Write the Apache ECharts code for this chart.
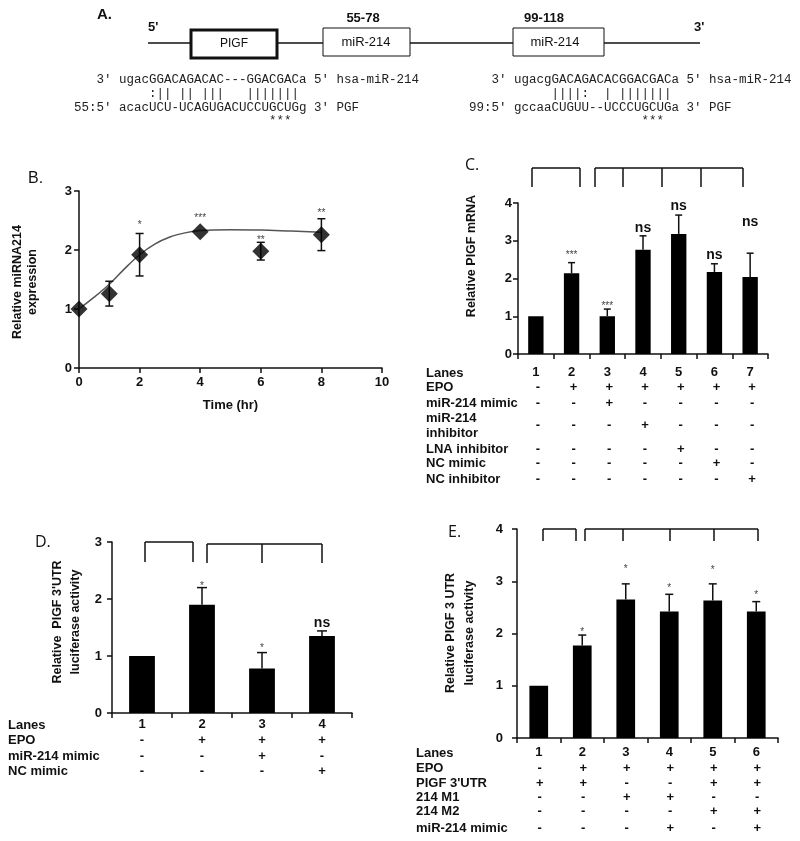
<!DOCTYPE html>
<html><head><meta charset="utf-8">
<script src="https://cdn.jsdelivr.net/npm/echarts@6/dist/echarts.min.js"></script>
<style>html,body{margin:0;padding:0;background:#fff}#c{width:800px;height:841px}</style>
</head><body><div id="c"></div>
<script>
// ---------- Panel A: sequence alignment text ----------
const seqLeft = ["   3' ugacGGACAGACAC---GGACGACa 5' hsa-miR-214",
                 "          :|| || |||   |||||||",
                 "55:5' acacUCU-UCAGUGACUCCUGCUGg 3' PGF",
                 "                          ***"];
const seqRight = ["   3' ugacgGACAGACACGGACGACa 5' hsa-miR-214",
                  "           ||||:  | |||||||",
                  "99:5' gccaaCUGUU--UCCCUGCUGa 3' PGF",
                  "                       ***"];

// ---------- Panel B ----------
const bTime = [0, 1, 2, 4, 6, 8];
const bMean = [1.0, 1.26, 1.92, 2.31, 1.98, 2.26];
const bErr  = [0, 0.21, 0.36, 0, 0.15, 0.27];
const bSig  = ['', '', '*', '***', '**', '**'];
const bSigY = [null, null, 2.47, 2.58, 2.20, 2.67];
const bFitX = [0, 0.5, 1, 1.5, 2, 2.5, 3, 3.5, 4, 5, 6, 7, 8];
const bFitY = [1.0, 1.2, 1.42, 1.68, 1.92, 2.1, 2.22, 2.29, 2.33, 2.345, 2.34, 2.32, 2.30];
const bXTicks = [0, 10, 2];
const bYTicks = [0, 3, 1];

// ---------- Panel C ----------
const cLanes = ['1', '2', '3', '4', '5', '6', '7'];
const cMean = [1.0, 2.14, 1.0, 2.76, 3.18, 2.17, 2.04];
const cErr  = [0, 0.28, 0.19, 0.37, 0.50, 0.22, 0.63];
const cSig  = ['', '***', '***', 'ns', 'ns', 'ns', 'ns'];
const cSigY = [null, 2.69, 1.33, 3.33, 3.93, 2.63, 3.50];
const cRowLabels = ['EPO', 'miR-214 mimic', 'miR-214\ninhibitor', 'LNA inhibitor', 'NC mimic', 'NC inhibitor'];
const cTable = [
  ['-', '+', '+', '+', '+', '+', '+'],
  ['-', '-', '+', '-', '-', '-', '-'],
  ['-', '-', '-', '+', '-', '-', '-'],
  ['-', '-', '-', '-', '+', '-', '-'],
  ['-', '-', '-', '-', '-', '+', '-'],
  ['-', '-', '-', '-', '-', '-', '+']
];

// ---------- Panel D ----------
const dLanes = ['1', '2', '3', '4'];
const dMean = [1.0, 1.90, 0.78, 1.35];
const dErr  = [0, 0.30, 0.28, 0.09];
const dSig  = ['', '*', '*', 'ns'];
const dSigY = [null, 2.27, 1.18, 1.57];
const dRowLabels = ['EPO', 'miR-214 mimic', 'NC mimic'];
const dTable = [
  ['-', '+', '+', '+'],
  ['-', '-', '+', '-'],
  ['-', '-', '-', '+']
];

// ---------- Panel E ----------
const eLanes = ['1', '2', '3', '4', '5', '6'];
const eMean = [1.0, 1.77, 2.65, 2.42, 2.63, 2.42];
const eErr  = [0, 0.20, 0.30, 0.33, 0.32, 0.19];
const eSig  = ['', '*', '*', '*', '*', '*'];
const eSigY = [null, 2.08, 3.27, 2.91, 3.25, 2.78];
const eRowLabels = ['EPO', "PIGF 3'UTR", '214 M1', '214 M2', 'miR-214 mimic'];
const eTable = [
  ['-', '+', '+', '+', '+', '+'],
  ['+', '+', '-', '-', '+', '+'],
  ['-', '-', '+', '+', '-', '-'],
  ['-', '-', '-', '-', '+', '+'],
  ['-', '-', '-', '+', '-', '+']
];

// ---------- layout ----------
const FONT = '"Liberation Sans", Arial, sans-serif';
const MONO = '"Liberation Mono", "Courier New", monospace';
const INK = '#111';
const GRID = {
  B: {left: 79, top: 191, width: 303, height: 177},
  C: {left: 518, top: 203, width: 250, height: 151},
  D: {left: 112, top: 542, width: 240, height: 171},
  E: {left: 517, top: 529, width: 261, height: 209}
};

const gfx = [];
function T(x, y, text, o) {
  o = o || {};
  gfx.push({type: 'text', x: x, y: y, rotation: o.rot || 0, silent: true, z: 10,
    style: {text: text, fill: o.fill || INK, fontFamily: o.family || FONT, fontSize: o.size || 13,
      fontWeight: o.weight || 'bold', lineHeight: o.lh || undefined,
      align: o.align || 'left', verticalAlign: 'middle', textAlign: o.align || 'left', textVerticalAlign: 'middle'}});
}
function L(x1, y1, x2, y2, w) {
  gfx.push({type: 'line', silent: true, z: 5, shape: {x1: x1, y1: y1, x2: x2, y2: y2},
    style: {stroke: INK, lineWidth: w || 1.5}});
}
function R(x, y, w, h, lw) {
  gfx.push({type: 'rect', silent: true, z: 6, shape: {x: x, y: y, width: w, height: h},
    style: {fill: '#fff', stroke: INK, lineWidth: lw}});
}
function bracket(y1, y2, xs) {
  L(xs[0], y1, xs[xs.length - 1], y1);
  xs.forEach(function (x) { L(x, y1, x, y2); });
}
function colX(g, n, i) { return g.left + (i + 0.5) * g.width / n; }
function table(g, n, labelX, labels, rows, ys, dx) {
  labels.forEach(function (lab, r) {
    const lines = lab.split('\n');
    if (lines.length > 1) {
      lines.forEach(function (ln, k) { T(labelX, ys[r] - 7.5 + k * 15, ln); });
    } else {
      T(labelX, ys[r], lab);
    }
    rows[r].forEach(function (v, i) { T(colX(g, n, i) + (dx || 0), ys[r], v, {align: 'center'}); });
  });
}

// Panel A diagram
T(97, 15, 'A.', {size: 15});
L(148, 43, 700, 43, 1.5);
R(191, 30, 86, 28, 3);
T(234, 44, 'PIGF', {weight: 'normal', size: 12, align: 'center'});
R(323, 28, 87, 28, 1);
T(366, 42, 'miR-214', {weight: 'normal', size: 13, align: 'center'});
R(513, 28, 91, 28, 1);
T(555, 42, 'miR-214', {weight: 'normal', size: 13, align: 'center'});
T(148, 27, "5'", {size: 13});
T(694, 27, "3'", {size: 13});
T(363, 18, '55-78', {align: 'center', size: 13});
T(544, 18, '99-118', {align: 'center', size: 13});
const seqY = [80, 94, 108, 121];
seqLeft.forEach(function (s, i) { T(74, seqY[i], s, {family: MONO, size: 12.5, weight: 'normal', fill: '#222'}); });
seqRight.forEach(function (s, i) { T(469, seqY[i], s, {family: MONO, size: 12.5, weight: 'normal', fill: '#222'}); });

// Panel letters and axis names
T(28, 179, 'B.', {size: 16, weight: 'normal'});
T(465, 165, 'C.', {size: 16, weight: 'normal', family: '"Open Sans", sans-serif'});
T(35, 542, 'D.', {size: 16, weight: 'normal', family: '"Open Sans", sans-serif'});
T(448, 532, 'E.', {size: 16, weight: 'normal', family: '"Open Sans", sans-serif'});
const ROT = Math.PI / 2;
T(18, 282, 'Relative miRNA214', {rot: ROT, align: 'center', size: 12.5});
T(33, 282, 'expression', {rot: ROT, align: 'center', size: 12.5});
T(472, 256, 'Relative PIGF mRNA', {rot: ROT, align: 'center', size: 12.5});
T(58, 622, "Relative  PIGF 3'UTR", {rot: ROT, align: 'center', size: 12.5});
T(76, 622, 'luciferase activity', {rot: ROT, align: 'center', size: 12.5});
T(451, 633, 'Relative PIGF 3 UTR', {rot: ROT, align: 'center', size: 12.5});
T(470, 633, 'luciferase activity', {rot: ROT, align: 'center', size: 12.5});

// brackets
bracket(168, 187, [532, 580]);
bracket(168, 187, [595, 623, 662, 701, 743]);
bracket(542, 562, [145, 193]);
bracket(544, 563, [207, 262, 322]);
bracket(529, 541, [543, 576]);
bracket(529, 541, [585, 623, 670, 714, 758]);

// tables
T(426, 373, 'Lanes');
table(GRID.C, 7, 426, cRowLabels, cTable, [387, 403, 425.5, 449, 463, 479], 2);
T(8, 725, 'Lanes');
table(GRID.D, 4, 8, dRowLabels, dTable, [740, 756, 771], 0);
T(416, 753, 'Lanes');
table(GRID.E, 6, 416, eRowLabels, eTable, [768, 783, 797, 811, 828], 1);

// ---------- axes ----------
function axis(gi, type, extra, labelMargin) {
  return Object.assign({
    type: type, gridIndex: gi,
    axisLine: {show: true, onZero: false, lineStyle: {color: INK, width: 1.5}},
    axisTick: {show: true, inside: false, length: 5, lineStyle: {color: INK, width: 1.5}},
    axisLabel: {color: INK, fontFamily: FONT, fontWeight: 'bold', fontSize: 13, margin: labelMargin},
    splitLine: {show: false}
  }, extra);
}

function errRender(cap, both) {
  return function (p, api) {
    const x = api.value(0), m = api.value(1), e = api.value(2);
    if (!e) return {type: 'group', children: []};
    const top = api.coord([x, m + e]);
    const bot = api.coord([x, both ? m - e : m]);
    const st = {stroke: INK, lineWidth: 1.5};
    const ch = [
      {type: 'line', shape: {x1: top[0], y1: top[1], x2: bot[0], y2: bot[1]}, style: st},
      {type: 'line', shape: {x1: top[0] - cap, y1: top[1], x2: top[0] + cap, y2: top[1]}, style: st}
    ];
    if (both) ch.push({type: 'line', shape: {x1: bot[0] - cap, y1: bot[1], x2: bot[0] + cap, y2: bot[1]}, style: st});
    return {type: 'group', children: ch};
  };
}
function sigSeries(ax, xs, labels, ys) {
  const data = [], txts = [];
  labels.forEach(function (s, i) { if (s) { data.push([xs[i], ys[i]]); txts.push(s); } });
  return {type: 'custom', xAxisIndex: ax, yAxisIndex: ax, data: data, z: 6, silent: true,
    renderItem: function (p, api) {
      const c = api.coord([api.value(0), api.value(1)]);
      const s = txts[p.dataIndex];
      const star = s.charAt(0) === '*';
      return {type: 'text', x: c[0], y: c[1] + (star ? 2.5 : 0),
        style: {text: s, fill: star ? '#444' : INK, fontFamily: FONT, fontSize: star ? 10 : 14,
          fontWeight: star ? 'normal' : 'bold', align: 'center', verticalAlign: 'middle',
          textAlign: 'center', textVerticalAlign: 'middle'}};
    }};
}
function barPanel(ax, lanes, mean, err, sig, sigY, cap) {
  const idx = lanes.map(function (_, i) { return i; });
  return [
    {type: 'bar', xAxisIndex: ax, yAxisIndex: ax, data: mean, barWidth: '43%',
      itemStyle: {color: '#000'}, silent: true, z: 2},
    {type: 'custom', xAxisIndex: ax, yAxisIndex: ax, silent: true, z: 3,
      data: idx.map(function (i) { return [i, mean[i], err[i]]; }), renderItem: errRender(cap, false)},
    sigSeries(ax, idx, sig, sigY)
  ];
}

const option = {
  animation: false,
  backgroundColor: '#fff',
  grid: [
    Object.assign({outerBoundsMode: 'none'}, GRID.B),
    Object.assign({outerBoundsMode: 'none'}, GRID.C),
    Object.assign({outerBoundsMode: 'none'}, GRID.D),
    Object.assign({outerBoundsMode: 'none'}, GRID.E)
  ],
  xAxis: [
    axis(0, 'value', {min: bXTicks[0], max: bXTicks[1], interval: bXTicks[2], name: 'Time (hr)',
      nameLocation: 'middle', nameGap: 31,
      nameTextStyle: {color: INK, fontFamily: FONT, fontWeight: 'bold', fontSize: 13}}, 8),
    axis(1, 'category', {data: cLanes, boundaryGap: true}, 12),
    axis(2, 'category', {data: dLanes, boundaryGap: true}, 5),
    axis(3, 'category', {data: eLanes, boundaryGap: true}, 8)
  ],
  yAxis: [
    axis(0, 'value', {min: bYTicks[0], max: bYTicks[1], interval: bYTicks[2]}, 7),
    axis(1, 'value', {min: 0, max: 4, interval: 1}, 6),
    axis(2, 'value', {min: 0, max: 3, interval: 1}, 10),
    axis(3, 'value', {min: 0, max: 4, interval: 1}, 14)
  ],
  series: [
    {type: 'line', xAxisIndex: 0, yAxisIndex: 0, silent: true, z: 2,
      data: bFitX.map(function (x, i) { return [x, bFitY[i]]; }),
      smooth: 0.35, showSymbol: false, symbol: 'none', lineStyle: {color: '#555', width: 1.5}},
    {type: 'custom', xAxisIndex: 0, yAxisIndex: 0, silent: true, z: 3,
      data: bTime.map(function (x, i) { return [x, bMean[i], bErr[i]]; }), renderItem: errRender(4, true)},
    {type: 'scatter', xAxisIndex: 0, yAxisIndex: 0, silent: true, z: 4,
      data: bTime.map(function (x, i) { return [x, bMean[i]]; }),
      symbol: 'diamond', symbolSize: 17, itemStyle: {color: '#000'}},
    sigSeries(0, bTime, bSig, bSigY)
  ].concat(
    barPanel(1, cLanes, cMean, cErr, cSig, cSigY, 3.5),
    barPanel(2, dLanes, dMean, dErr, dSig, dSigY, 5),
    barPanel(3, eLanes, eMean, eErr, eSig, eSigY, 4)
  ),
  graphic: {elements: gfx}
};

const chart = echarts.init(document.getElementById('c'), null, {renderer: 'canvas'});
chart.setOption(option);
</script></body></html>
